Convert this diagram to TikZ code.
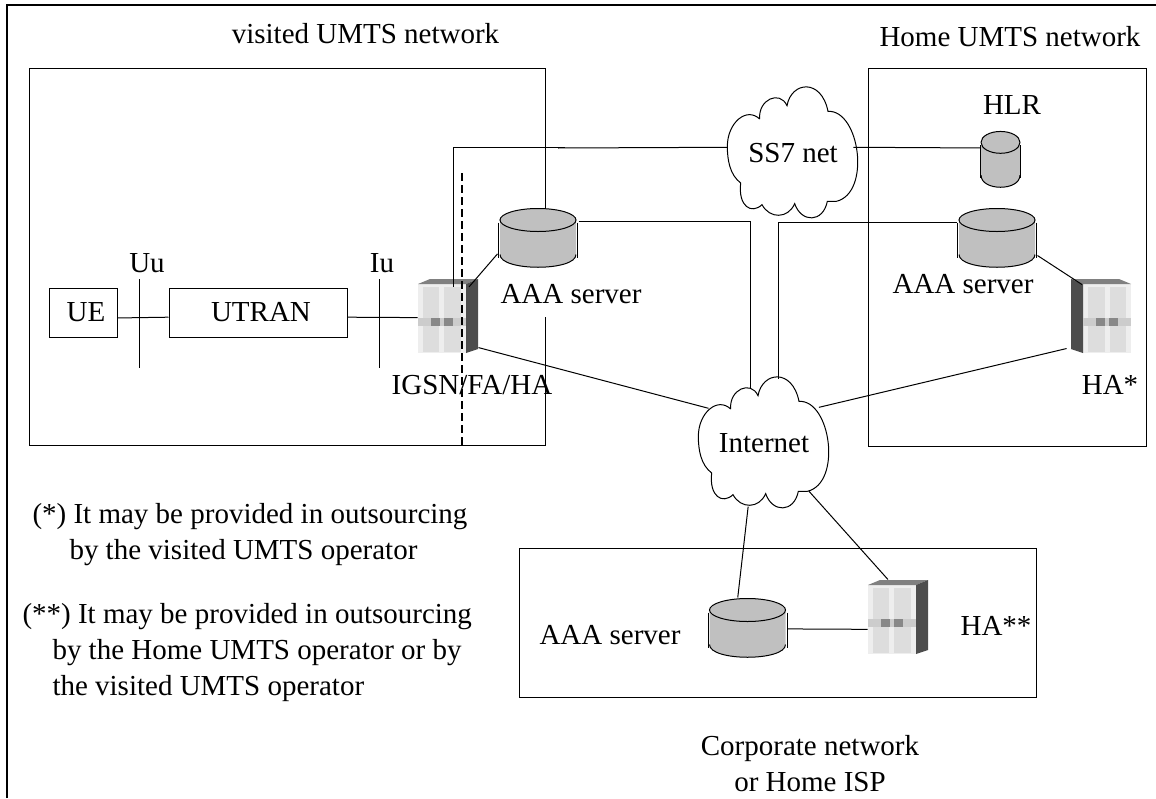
\documentclass[tikz,border=0pt]{standalone}
\usepackage{fontspec}
\setmainfont{Liberation Serif}
\tikzset{
	netcloud/.pic={
		\begin{scope}[x=.3333pt,y=-.3333pt]
			\draw (-100,-102) .. controls (-105,-160) and (-40,-190) .. (-18,-142)
				.. controls (-5,-215) and (85,-225) .. (105,-125)
				.. controls (200,-130) and (235,120) .. (130,145)
				-- (103,145)
				.. controls (90,210) and (25,210) .. (5,152)
				.. controls (-15,198) and (-70,198) .. (-93,155)
				.. controls (-125,185) and (-165,160) .. (-157,90)
				.. controls (-190,65) and (-197,20) .. (-197,-20)
				.. controls (-197,-90) and (-140,-140) .. (-100,-102);
		\end{scope}
		\node[circle, minimum size=130pt, inner sep=0pt] (-c) at (0,0) {#1};
	},
	aaadisk/.pic={
		\fill[diskgray] (-38,-17.5) -- (-38,17) .. controls (-38,34) and (38,34) .. (38,17) -- (38,-17.5) -- cycle;
		\draw (-38,17) .. controls (-38,34) and (38,34) .. (38,17);
		\draw[fill=diskgray] (0,-17.5) ellipse [x radius=38pt, y radius=11.5pt];
		\draw (-39.5,-15) -- (-39.5,20);
		\draw (39.5,-15) -- (39.5,20);
		\node[minimum width=80pt, minimum height=59pt, inner sep=0pt, transform shape] (-c) at (0,0) {};
	},
	rack/.pic={
		\fill[rackfront] (-30,-32) rectangle (18,37);
		\fill[racktop] (-30,-32) -- (-18,-37) -- (30,-37) -- (18,-32) -- cycle;
		\fill[rackside] (18,-32) -- (30,-37) -- (30,33) -- (18,37) -- cycle;
		\fill[rackpanel] (-25,-29) rectangle (-9,36);
		\fill[rackpanel] (-4,-29) rectangle (13,36);
		\fill[rackband] (-30,2) rectangle (18,10);
		\fill[rackbutton] (-17,2) rectangle (-8,10);
		\fill[rackbutton] (-4,2) rectangle (5,10);
		\node[minimum width=60pt, minimum height=74pt, inner sep=0pt] (-c) at (0,0) {};
	}
}
\definecolor{diskgray}{HTML}{C0C0C0}
\definecolor{rackfront}{HTML}{EEEEEE}
\definecolor{rackpanel}{HTML}{DDDDDD}
\definecolor{rackband}{HTML}{CCCCCC}
\definecolor{rackbutton}{HTML}{888888}
\definecolor{racktop}{HTML}{808080}
\definecolor{rackside}{HTML}{4D4D4D}
\begin{document}
\begin{tikzpicture}[x=1pt, y=-1pt, line width=1pt,
	every node/.style={font=\fontsize{29}{36}\selectfont},
	lbl/.style={anchor=base, inner sep=0pt},
	note/.style={anchor=north west, align=left, inner sep=0pt}]
	\useasboundingbox (0,0) rectangle (1156,798);
	\coordinate (fbot) at (7,798);
	\coordinate (fcorner) at (7,5);
	\coordinate (fright) at (1156,5);
	\draw[line width=2pt] (fbot) -- (fcorner) -- (fright);
	% network boxes
	\node[draw, minimum width=516pt, minimum height=377pt, inner sep=0pt] (visited) at (287.5,256.5) {};
	\node[draw, minimum width=278pt, minimum height=378pt, inner sep=0pt] (home) at (1007,257) {};
	\node[draw, minimum width=517pt, minimum height=149pt, inner sep=0pt] (corp) at (777.5,622.5) {};
	\node[lbl, fill=white, text height=36pt, text depth=14pt] (aaa1t) at (571,303) {AAA server};
	% access part
	\node[draw, minimum width=68pt, minimum height=49pt, inner sep=0pt] (ue) at (83,312.5) {\hspace*{6pt}UE};
	\node[draw, minimum width=178pt, minimum height=49pt, inner sep=0pt] (utran) at (258,312.5) {\hspace*{6pt}UTRAN};
	\node[lbl] (uu) at (147,272) {Uu};
	\node[lbl] (iu) at (382,272) {Iu};
	\coordinate (uutop) at (139,279);
	\coordinate (uubot) at (139,368);
	\coordinate (iutop) at (379,279);
	\coordinate (iubot) at (379,368);
	% equipment
	\pic (ss7) at (793,153) {netcloud={SS7 net}};
	\pic (inet) at (764,443) {netcloud={Internet}};
	\pic (aaa1) at (538,237.5) {aaadisk};
	\pic (aaa2) at (997,237.5) {aaadisk};
	\pic (aaa3) at (747.5,627.5) {aaadisk};
	\pic[xscale=.5125, yscale=.95] (hlr) at (1000.5,159) {aaadisk};
	\pic (rack1) at (448,316) {rack};
	\pic[xscale=-1] (rack2) at (1101,316) {rack};
	\pic (rack3) at (898,617) {rack};
	% connectors
	\draw (ue.-9.2) -- (utran.183.5);
	\draw (utran.-3.5) -- (rack1-c.183.8);
	\draw (uutop) -- (uubot);
	\draw (iutop) -- (iubot);
	\draw[shorten >=-11pt] (aaa1-c.202) -- (rack1-c.53);
	\coordinate (jog1) at (565,147);
	\coordinate (jog2) at (558,148);
	\draw[shorten <=-8pt] (rack1-c.82.3) |- (jog1);
	\draw (ss7-c.175) -- (jog2);
	\draw[shorten <=-5pt] (ss7-c.5) -- (hlr-c.164);
	\draw[shorten >=-10.5pt] (aaa1-c.22) -| (inet-c.102);
	\draw (aaa2-c.160) -| (inet-c.77);
	\draw (rack1-c.-46.8) -- (inet-c.148);
	\draw[shorten <=4pt] (rack2-c.226.8) -- (inet-c.33);
	\draw[shorten >=-11pt] (aaa2-c.-24) -- (rack2-c.127);
	\draw (inet-c.-104) -- (aaa3-c.108);
	\draw (inet-c.-47) -- (rack3-c.105);
	\draw (aaa3-c.-2) -- (rack3-c.202.6);
	\coordinate (dashtop) at (462,173);
	\coordinate (dashbot) at (462,445);
	\draw[dash pattern=on 8pt off 4pt, line width=1.3pt] (dashtop) -- (dashbot);
	% texts
	\node[lbl] (vname) at (365.5,43) {visited UMTS network};
	\node[lbl] (hname) at (1010,46) {Home UMTS network};
	\node[lbl] (hlrt) at (1012,114) {HLR};
	\node[lbl] (aaa2t) at (963,293) {AAA server};
	\node[lbl] (aaa3t) at (610,644) {AAA server};
	\node[lbl] (igsn) at (472,394) {IGSN/FA/HA};
	\node[lbl] (hastar) at (1110,394) {HA*};
	\node[lbl] (hastarb) at (996,635) {HA**};
	\node[note] (note1) at (32,503) {(*) It may be provided in outsourcing\\\hspace*{37pt}by the visited UMTS operator};
	\node[note] (note2) at (22,603) {(**) It may be provided in outsourcing\\\hspace*{30pt}by the Home UMTS operator or by\\\hspace*{30pt}the visited UMTS operator};
	\node[anchor=north, align=center, inner sep=0pt] (corpname) at (810,735) {Corporate network\\or Home ISP};
\end{tikzpicture}
\end{document}
